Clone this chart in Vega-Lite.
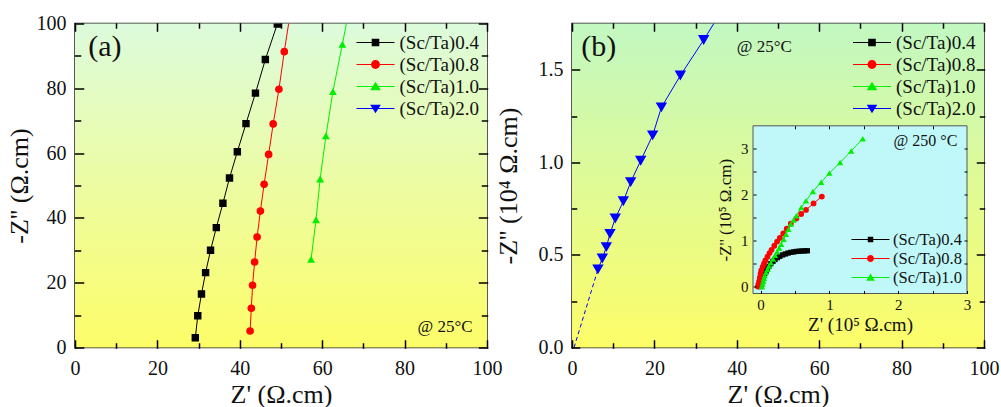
{
  "$schema": "https://vega.github.io/schema/vega-lite/v6.json",
  "autosize": {"type": "pad"},
  "padding": {"left": 5, "top": 12.5, "right": 3, "bottom": 0},
  "background": "white",
  "spacing": 85,
  "bounds": "flush",
  "datasets": {
    "a": [
      {"s": "(Sc/Ta)0.4", "x": 29.2, "y": 3.0}, {"s": "(Sc/Ta)0.4", "x": 29.8, "y": 9.8}, {"s": "(Sc/Ta)0.4", "x": 30.7, "y": 16.5},
      {"s": "(Sc/Ta)0.4", "x": 31.7, "y": 23.1}, {"s": "(Sc/Ta)0.4", "x": 32.9, "y": 30.0}, {"s": "(Sc/Ta)0.4", "x": 34.3, "y": 37.0},
      {"s": "(Sc/Ta)0.4", "x": 35.9, "y": 44.5}, {"s": "(Sc/Ta)0.4", "x": 37.5, "y": 52.3}, {"s": "(Sc/Ta)0.4", "x": 39.4, "y": 60.4},
      {"s": "(Sc/Ta)0.4", "x": 41.5, "y": 69.1}, {"s": "(Sc/Ta)0.4", "x": 43.8, "y": 78.5}, {"s": "(Sc/Ta)0.4", "x": 46.2, "y": 88.9},
      {"s": "(Sc/Ta)0.4", "x": 49.1, "y": 99.8},
      {"s": "(Sc/Ta)0.8", "x": 42.5, "y": 5.1}, {"s": "(Sc/Ta)0.8", "x": 42.8, "y": 12.1}, {"s": "(Sc/Ta)0.8", "x": 43.1, "y": 19.2},
      {"s": "(Sc/Ta)0.8", "x": 43.6, "y": 26.4}, {"s": "(Sc/Ta)0.8", "x": 44.2, "y": 34.1}, {"s": "(Sc/Ta)0.8", "x": 45.0, "y": 42.1},
      {"s": "(Sc/Ta)0.8", "x": 45.9, "y": 50.4}, {"s": "(Sc/Ta)0.8", "x": 47.0, "y": 59.6}, {"s": "(Sc/Ta)0.8", "x": 48.1, "y": 69.0},
      {"s": "(Sc/Ta)0.8", "x": 49.5, "y": 79.7}, {"s": "(Sc/Ta)0.8", "x": 50.8, "y": 91.3}, {"s": "(Sc/Ta)0.8", "x": 52.4, "y": 104.5},
      {"s": "(Sc/Ta)1.0", "x": 57.3, "y": 27.2}, {"s": "(Sc/Ta)1.0", "x": 58.5, "y": 39.4}, {"s": "(Sc/Ta)1.0", "x": 59.5, "y": 52.0},
      {"s": "(Sc/Ta)1.0", "x": 60.9, "y": 65.3}, {"s": "(Sc/Ta)1.0", "x": 62.6, "y": 79.0}, {"s": "(Sc/Ta)1.0", "x": 64.9, "y": 93.6},
      {"s": "(Sc/Ta)1.0", "x": 66.4, "y": 103.5}
    ],
    "b": [
      {"s": "(Sc/Ta)2.0", "x": 6.3, "y": 0.422}, {"s": "(Sc/Ta)2.0", "x": 7.36, "y": 0.481}, {"s": "(Sc/Ta)2.0", "x": 8.33, "y": 0.542},
      {"s": "(Sc/Ta)2.0", "x": 9.22, "y": 0.614}, {"s": "(Sc/Ta)2.0", "x": 10.5, "y": 0.697}, {"s": "(Sc/Ta)2.0", "x": 12.46, "y": 0.79},
      {"s": "(Sc/Ta)2.0", "x": 14.24, "y": 0.893}, {"s": "(Sc/Ta)2.0", "x": 16.67, "y": 1.009}, {"s": "(Sc/Ta)2.0", "x": 19.58, "y": 1.146},
      {"s": "(Sc/Ta)2.0", "x": 21.7, "y": 1.297}, {"s": "(Sc/Ta)2.0", "x": 26.3, "y": 1.469}, {"s": "(Sc/Ta)2.0", "x": 31.96, "y": 1.661},
      {"s": "(Sc/Ta)2.0", "x": 37.5, "y": 1.86}
    ],
    "bdash": [
      {"x": 0.5, "y": 0.0}, {"x": 6.3, "y": 0.422}
    ],
    "inset": [
      {"s": "(Sc/Ta)0.4", "x": 0.0, "y": 0.0}, {"s": "(Sc/Ta)0.4", "x": 0.01, "y": 0.06}, {"s": "(Sc/Ta)0.4", "x": 0.02, "y": 0.12},
      {"s": "(Sc/Ta)0.4", "x": 0.03, "y": 0.18}, {"s": "(Sc/Ta)0.4", "x": 0.045, "y": 0.24}, {"s": "(Sc/Ta)0.4", "x": 0.06, "y": 0.29},
      {"s": "(Sc/Ta)0.4", "x": 0.08, "y": 0.34}, {"s": "(Sc/Ta)0.4", "x": 0.1, "y": 0.39}, {"s": "(Sc/Ta)0.4", "x": 0.12, "y": 0.44},
      {"s": "(Sc/Ta)0.4", "x": 0.15, "y": 0.5}, {"s": "(Sc/Ta)0.4", "x": 0.18, "y": 0.55}, {"s": "(Sc/Ta)0.4", "x": 0.21, "y": 0.59},
      {"s": "(Sc/Ta)0.4", "x": 0.245, "y": 0.63}, {"s": "(Sc/Ta)0.4", "x": 0.28, "y": 0.66}, {"s": "(Sc/Ta)0.4", "x": 0.32, "y": 0.69},
      {"s": "(Sc/Ta)0.4", "x": 0.36, "y": 0.71}, {"s": "(Sc/Ta)0.4", "x": 0.4, "y": 0.73}, {"s": "(Sc/Ta)0.4", "x": 0.44, "y": 0.745},
      {"s": "(Sc/Ta)0.4", "x": 0.48, "y": 0.755}, {"s": "(Sc/Ta)0.4", "x": 0.52, "y": 0.765}, {"s": "(Sc/Ta)0.4", "x": 0.56, "y": 0.77},
      {"s": "(Sc/Ta)0.4", "x": 0.6, "y": 0.775}, {"s": "(Sc/Ta)0.4", "x": 0.64, "y": 0.778}, {"s": "(Sc/Ta)0.4", "x": 0.68, "y": 0.78},
      {"s": "(Sc/Ta)0.8", "x": -0.04, "y": 0.0}, {"s": "(Sc/Ta)0.8", "x": -0.03, "y": 0.06}, {"s": "(Sc/Ta)0.8", "x": -0.02, "y": 0.12},
      {"s": "(Sc/Ta)0.8", "x": -0.01, "y": 0.2}, {"s": "(Sc/Ta)0.8", "x": 0.0, "y": 0.28}, {"s": "(Sc/Ta)0.8", "x": 0.01, "y": 0.35},
      {"s": "(Sc/Ta)0.8", "x": 0.03, "y": 0.43}, {"s": "(Sc/Ta)0.8", "x": 0.05, "y": 0.5}, {"s": "(Sc/Ta)0.8", "x": 0.07, "y": 0.57},
      {"s": "(Sc/Ta)0.8", "x": 0.1, "y": 0.65}, {"s": "(Sc/Ta)0.8", "x": 0.13, "y": 0.73}, {"s": "(Sc/Ta)0.8", "x": 0.16, "y": 0.8},
      {"s": "(Sc/Ta)0.8", "x": 0.2, "y": 0.89}, {"s": "(Sc/Ta)0.8", "x": 0.24, "y": 0.98}, {"s": "(Sc/Ta)0.8", "x": 0.28, "y": 1.06},
      {"s": "(Sc/Ta)0.8", "x": 0.33, "y": 1.16}, {"s": "(Sc/Ta)0.8", "x": 0.38, "y": 1.26}, {"s": "(Sc/Ta)0.8", "x": 0.44, "y": 1.37},
      {"s": "(Sc/Ta)0.8", "x": 0.52, "y": 1.48}, {"s": "(Sc/Ta)0.8", "x": 0.59, "y": 1.58}, {"s": "(Sc/Ta)0.8", "x": 0.66, "y": 1.67},
      {"s": "(Sc/Ta)0.8", "x": 0.77, "y": 1.81}, {"s": "(Sc/Ta)0.8", "x": 0.89, "y": 1.96},
      {"s": "(Sc/Ta)1.0", "x": 0.02, "y": 0.0}, {"s": "(Sc/Ta)1.0", "x": 0.03, "y": 0.06}, {"s": "(Sc/Ta)1.0", "x": 0.04, "y": 0.12},
      {"s": "(Sc/Ta)1.0", "x": 0.05, "y": 0.18}, {"s": "(Sc/Ta)1.0", "x": 0.06, "y": 0.24}, {"s": "(Sc/Ta)1.0", "x": 0.08, "y": 0.31},
      {"s": "(Sc/Ta)1.0", "x": 0.1, "y": 0.38}, {"s": "(Sc/Ta)1.0", "x": 0.12, "y": 0.45}, {"s": "(Sc/Ta)1.0", "x": 0.15, "y": 0.52},
      {"s": "(Sc/Ta)1.0", "x": 0.18, "y": 0.6}, {"s": "(Sc/Ta)1.0", "x": 0.21, "y": 0.68}, {"s": "(Sc/Ta)1.0", "x": 0.24, "y": 0.76},
      {"s": "(Sc/Ta)1.0", "x": 0.27, "y": 0.84}, {"s": "(Sc/Ta)1.0", "x": 0.3, "y": 0.92}, {"s": "(Sc/Ta)1.0", "x": 0.335, "y": 1.03},
      {"s": "(Sc/Ta)1.0", "x": 0.37, "y": 1.14}, {"s": "(Sc/Ta)1.0", "x": 0.405, "y": 1.25}, {"s": "(Sc/Ta)1.0", "x": 0.44, "y": 1.36},
      {"s": "(Sc/Ta)1.0", "x": 0.48, "y": 1.45}, {"s": "(Sc/Ta)1.0", "x": 0.52, "y": 1.54}, {"s": "(Sc/Ta)1.0", "x": 0.59, "y": 1.72},
      {"s": "(Sc/Ta)1.0", "x": 0.66, "y": 1.87}, {"s": "(Sc/Ta)1.0", "x": 0.76, "y": 2.07}, {"s": "(Sc/Ta)1.0", "x": 0.88, "y": 2.27},
      {"s": "(Sc/Ta)1.0", "x": 1.0, "y": 2.47}, {"s": "(Sc/Ta)1.0", "x": 1.156, "y": 2.7}, {"s": "(Sc/Ta)1.0", "x": 1.316, "y": 2.95},
      {"s": "(Sc/Ta)1.0", "x": 1.485, "y": 3.22}
    ]
  },
  "hconcat": [
    {
      "width": 412,
      "height": 324,
      "view": {"stroke": "#222222", "strokeWidth": 1.5},
      "data": {"name": "a"},
      "layer": [
        {
          "data": {"values": [{"t": "bg"}]},
          "mark": {"type": "rect", "fill": {"gradient": "linear", "x1": 0, "y1": 0, "x2": 0, "y2": 1, "stops": [{"offset": 0, "color": "#dcfbdc"}, {"offset": 1, "color": "#fdfd68"}]}},
          "encoding": {
            "x": {"datum": 0, "type": "quantitative", "scale": {"domain": [0, 100], "nice": false, "zero": false}, "axis": null},
            "x2": {"datum": 100},
            "y": {"datum": 0, "type": "quantitative", "scale": {"domain": [0, 100], "nice": false, "zero": false}, "axis": null},
            "y2": {"datum": 100}
          }
        },
        {
          "mark": {"type": "line", "clip": true, "strokeWidth": 1},
          "encoding": {
            "x": {"field": "x", "type": "quantitative", "scale": {"domain": [0, 100], "nice": false, "zero": false},
                  "axis": {"orient": "bottom", "offset": -7, "values": [0, 20, 40, 60, 80, 100], "tickSize": 7, "tickCap": "square", "labelPadding": 11, "title": "Z' (Ω.cm)", "titlePadding": 3, "zindex": 1}},
            "y": {"field": "y", "type": "quantitative", "scale": {"domain": [0, 100], "nice": false, "zero": false},
                  "axis": {"orient": "left", "offset": -8, "values": [0, 20, 40, 60, 80, 100], "tickSize": 8, "tickCap": "square", "labelPadding": 9, "title": "-Z'' (Ω.cm)", "titlePadding": 4, "zindex": 1}},
            "color": {"field": "s", "type": "nominal", "legend": null,
                      "scale": {"domain": ["(Sc/Ta)0.4", "(Sc/Ta)0.8", "(Sc/Ta)1.0", "(Sc/Ta)2.0"], "range": ["#000000", "#ff0000", "#00ee00", "#0000ff"]}}
          }
        },
        {
          "mark": {"type": "point", "filled": true, "clip": true, "opacity": 1},
          "encoding": {
            "x": {"field": "x", "type": "quantitative", "scale": {"domain": [0, 100], "nice": false, "zero": false},
                  "axis": {"orient": "top", "offset": -7, "values": [0, 20, 40, 60, 80, 100], "tickSize": 7, "tickCap": "square", "labels": false, "title": null, "zindex": 1}},
            "y": {"field": "y", "type": "quantitative", "scale": {"domain": [0, 100], "nice": false, "zero": false},
                  "axis": {"orient": "right", "offset": -8, "values": [0, 20, 40, 60, 80, 100], "tickSize": 8, "tickCap": "square", "labels": false, "title": null, "zindex": 1}},
            "color": {"field": "s", "type": "nominal", "legend": null,
                      "scale": {"domain": ["(Sc/Ta)0.4", "(Sc/Ta)0.8", "(Sc/Ta)1.0", "(Sc/Ta)2.0"], "range": ["#000000", "#ff0000", "#00ee00", "#0000ff"]}},
            "shape": {"field": "s", "type": "nominal", "legend": null,
                      "scale": {"domain": ["(Sc/Ta)0.4", "(Sc/Ta)0.8", "(Sc/Ta)1.0", "(Sc/Ta)2.0"], "range": ["square", "circle", "triangle-up", "triangle-down"]}},
            "size": {"field": "s", "type": "ordinal", "legend": null,
                     "scale": {"domain": ["(Sc/Ta)0.4", "(Sc/Ta)0.8", "(Sc/Ta)1.0", "(Sc/Ta)2.0"], "range": [55, 65, 90, 130]}}
          }
        },
        {
          "mark": {"type": "point", "filled": true, "opacity": 0, "size": 361, "clip": true},
          "encoding": {
            "x": {"field": "x", "type": "quantitative", "scale": {"domain": [0, 100], "nice": false, "zero": false}, "axis": null},
            "y": {"field": "y", "type": "quantitative", "scale": {"domain": [0, 100], "nice": false, "zero": false}, "axis": null},
            "color": {"field": "s", "type": "nominal",
                      "scale": {"domain": ["(Sc/Ta)0.4", "(Sc/Ta)0.8", "(Sc/Ta)1.0", "(Sc/Ta)2.0"], "range": ["#000000", "#ff0000", "#00ee00", "#0000ff"]},
                      "legend": {"orient": "none", "legendX": 291, "legendY": 9.5, "title": null, "symbolSize": 361, "symbolOpacity": 1, "symbolStrokeWidth": 0, "labelOffset": 14.5, "rowPadding": 2, "padding": 0, "labelFontSize": 19}},
            "shape": {"field": "s", "type": "nominal",
                      "scale": {"domain": ["(Sc/Ta)0.4", "(Sc/Ta)0.8", "(Sc/Ta)1.0", "(Sc/Ta)2.0"],
                                "range": ["M-2,-0.06H2V0.06H-2ZM-0.4,-0.4H0.4V0.4H-0.4Z", "M-2,-0.06H2V0.06H-2ZM-0.47,0A0.47,0.47,0,1,1,0.47,0A0.47,0.47,0,1,1,-0.47,0Z", "M-2,-0.06H2V0.06H-2ZM0,-0.5L0.56,0.39H-0.56Z", "M-2,-0.06H2V0.06H-2ZM0,0.5L-0.56,-0.39H0.56Z"]},
                      "legend": {"orient": "none", "legendX": 291, "legendY": 9.5, "title": null, "symbolSize": 361, "symbolOpacity": 1, "symbolStrokeWidth": 0, "labelOffset": 14.5, "rowPadding": 2, "padding": 0, "labelFontSize": 19}}
          }
        },
        {
          "data": {"values": [{"t": "(a)"}]},
          "mark": {"type": "text", "align": "left", "baseline": "middle", "fontSize": 30},
          "encoding": {
            "x": {"datum": 3.2, "type": "quantitative", "scale": {"domain": [0, 100], "nice": false, "zero": false},
                  "axis": {"orient": "bottom", "offset": -4, "values": [10, 30, 50, 70, 90], "tickSize": 4, "tickCap": "square", "labels": false, "title": null, "zindex": 1}},
            "y": {"datum": 92.6, "type": "quantitative", "scale": {"domain": [0, 100], "nice": false, "zero": false},
                  "axis": {"orient": "left", "offset": -5, "values": [10, 30, 50, 70, 90], "tickSize": 5, "tickCap": "square", "labels": false, "title": null, "zindex": 1}},
            "text": {"field": "t"}
          }
        },
        {
          "data": {"values": [{"t": "@ 25°C"}]},
          "mark": {"type": "text", "align": "right", "baseline": "middle", "fontSize": 17},
          "encoding": {
            "x": {"datum": 96.5, "type": "quantitative", "scale": {"domain": [0, 100], "nice": false, "zero": false},
                  "axis": {"orient": "top", "offset": -4, "values": [10, 30, 50, 70, 90], "tickSize": 4, "tickCap": "square", "labels": false, "title": null, "zindex": 1}},
            "y": {"datum": 6.2, "type": "quantitative", "scale": {"domain": [0, 100], "nice": false, "zero": false},
                  "axis": {"orient": "right", "offset": -5, "values": [10, 30, 50, 70, 90], "tickSize": 5, "tickCap": "square", "labels": false, "title": null, "zindex": 1}},
            "text": {"field": "t"}
          }
        }
      ],
      "resolve": {
        "scale": {"color": "independent", "shape": "independent", "size": "independent"},
        "axis": {"x": "independent", "y": "independent"},
        "legend": {"color": "independent", "shape": "independent", "size": "independent"}
      }
    },
    {
      "width": 412,
      "height": 324,
      "view": {"stroke": "#222222", "strokeWidth": 1.5},
      "layer": [
        {
          "layer": [
            {
              "data": {"values": [{"t": "bg"}]},
              "mark": {"type": "rect", "fill": {"gradient": "linear", "x1": 0, "y1": 0, "x2": 0, "y2": 1, "stops": [{"offset": 0, "color": "#c2f8c2"}, {"offset": 1, "color": "#fdfd68"}]}},
              "encoding": {
                "x": {"datum": 0, "type": "quantitative", "scale": {"domain": [0, 100], "nice": false, "zero": false}, "axis": null},
                "x2": {"datum": 100},
                "y": {"datum": 0, "type": "quantitative", "scale": {"domain": [0, 1.75], "nice": false, "zero": false}, "axis": null},
                "y2": {"datum": 1.75}
              }
            },
            {
              "data": {"name": "bdash"},
              "mark": {"type": "line", "clip": true, "strokeWidth": 1, "strokeDash": [4, 3], "color": "#0000ff"},
              "encoding": {
                "x": {"field": "x", "type": "quantitative", "scale": {"domain": [0, 100], "nice": false, "zero": false},
                      "axis": {"orient": "bottom", "offset": -7, "values": [0, 20, 40, 60, 80, 100], "tickSize": 7, "tickCap": "square", "labelPadding": 11, "title": "Z' (Ω.cm)", "titlePadding": 3, "zindex": 1}},
                "y": {"field": "y", "type": "quantitative", "scale": {"domain": [0, 1.75], "nice": false, "zero": false},
                      "axis": {"orient": "left", "offset": -7, "values": [0, 0.5, 1, 1.5], "format": ".1f", "tickSize": 7, "tickCap": "square", "labelPadding": 9, "title": "-Z'' (10⁴ Ω.cm)", "titlePadding": 17, "zindex": 1}}
              }
            },
            {
              "data": {"name": "b"},
              "mark": {"type": "line", "clip": true, "strokeWidth": 1, "color": "#0000ff"},
              "encoding": {
                "x": {"field": "x", "type": "quantitative", "scale": {"domain": [0, 100], "nice": false, "zero": false},
                      "axis": {"orient": "top", "offset": -7, "values": [0, 20, 40, 60, 80, 100], "tickSize": 7, "tickCap": "square", "labels": false, "title": null, "zindex": 1}},
                "y": {"field": "y", "type": "quantitative", "scale": {"domain": [0, 1.75], "nice": false, "zero": false},
                      "axis": {"orient": "right", "offset": -7, "values": [0, 0.5, 1, 1.5], "tickSize": 7, "tickCap": "square", "labels": false, "title": null, "zindex": 1}}
              }
            },
            {
              "data": {"name": "b"},
              "mark": {"type": "point", "filled": true, "clip": true, "opacity": 1, "shape": "triangle-down", "size": 130, "color": "#0000ff"},
              "encoding": {
                "x": {"field": "x", "type": "quantitative", "scale": {"domain": [0, 100], "nice": false, "zero": false},
                      "axis": {"orient": "bottom", "offset": -4, "values": [10, 30, 50, 70, 90], "tickSize": 4, "tickCap": "square", "labels": false, "title": null, "zindex": 1}},
                "y": {"field": "y", "type": "quantitative", "scale": {"domain": [0, 1.75], "nice": false, "zero": false},
                      "axis": {"orient": "left", "offset": -4, "values": [0.25, 0.75, 1.25], "tickSize": 4, "tickCap": "square", "labels": false, "title": null, "zindex": 1}}
              }
            },
            {
              "data": {"name": "b"},
              "mark": {"type": "point", "filled": true, "opacity": 0, "size": 361, "clip": true},
              "encoding": {
                "x": {"field": "x", "type": "quantitative", "scale": {"domain": [0, 100], "nice": false, "zero": false}, "axis": null},
                "y": {"field": "y", "type": "quantitative", "scale": {"domain": [0, 1.75], "nice": false, "zero": false}, "axis": null},
                "color": {"field": "s", "type": "nominal",
                          "scale": {"domain": ["(Sc/Ta)0.4", "(Sc/Ta)0.8", "(Sc/Ta)1.0", "(Sc/Ta)2.0"], "range": ["#000000", "#ff0000", "#00ee00", "#0000ff"]},
                          "legend": {"orient": "none", "legendX": 290.5, "legendY": 9.5, "title": null, "symbolSize": 361, "symbolOpacity": 1, "symbolStrokeWidth": 0, "labelOffset": 14.5, "rowPadding": 2, "padding": 0, "labelFontSize": 19}},
                "shape": {"field": "s", "type": "nominal",
                          "scale": {"domain": ["(Sc/Ta)0.4", "(Sc/Ta)0.8", "(Sc/Ta)1.0", "(Sc/Ta)2.0"],
                                    "range": ["M-2,-0.06H2V0.06H-2ZM-0.4,-0.4H0.4V0.4H-0.4Z", "M-2,-0.06H2V0.06H-2ZM-0.47,0A0.47,0.47,0,1,1,0.47,0A0.47,0.47,0,1,1,-0.47,0Z", "M-2,-0.06H2V0.06H-2ZM0,-0.5L0.56,0.39H-0.56Z", "M-2,-0.06H2V0.06H-2ZM0,0.5L-0.56,-0.39H0.56Z"]},
                          "legend": {"orient": "none", "legendX": 290.5, "legendY": 9.5, "title": null, "symbolSize": 361, "symbolOpacity": 1, "symbolStrokeWidth": 0, "labelOffset": 14.5, "rowPadding": 2, "padding": 0, "labelFontSize": 19}}
              }
            },
            {
              "data": {"values": [{"t": "(b)"}]},
              "mark": {"type": "text", "align": "left", "baseline": "middle", "fontSize": 30},
              "encoding": {
                "x": {"datum": 2.26, "type": "quantitative", "scale": {"domain": [0, 100], "nice": false, "zero": false},
                      "axis": {"orient": "top", "offset": -4, "values": [10, 30, 50, 70, 90], "tickSize": 4, "tickCap": "square", "labels": false, "title": null, "zindex": 1}},
                "y": {"datum": 1.625, "type": "quantitative", "scale": {"domain": [0, 1.75], "nice": false, "zero": false},
                      "axis": {"orient": "right", "offset": -4, "values": [0.25, 0.75, 1.25], "tickSize": 4, "tickCap": "square", "labels": false, "title": null, "zindex": 1}},
                "text": {"field": "t"}
              }
            },
            {
              "data": {"values": [{"t": "@ 25°C"}]},
              "mark": {"type": "text", "align": "left", "baseline": "middle", "fontSize": 17},
              "encoding": {
                "x": {"datum": 40, "type": "quantitative", "scale": {"domain": [0, 100], "nice": false, "zero": false}, "axis": null},
                "y": {"datum": 1.625, "type": "quantitative", "scale": {"domain": [0, 1.75], "nice": false, "zero": false}, "axis": null},
                "text": {"field": "t"}
              }
            }
          ],
          "resolve": {"axis": {"x": "independent", "y": "independent"}}
        },
        {
          "layer": [
            {
              "data": {"values": [{"t": "inset"}]},
              "mark": {"type": "rect", "fill": "#c0f8fa", "stroke": "#555555", "strokeWidth": 1},
              "encoding": {
                "x": {"datum": -0.11, "type": "quantitative", "scale": {"domain": [-0.11, 3], "range": [181, 395], "nice": false, "zero": false},
                      "axis": {"orient": "bottom", "offset": -57, "values": [0, 0.5, 1, 1.5, 2, 2.5, 3], "labelExpr": "datum.value % 1 === 0 ? format(datum.value, 'd') : ''", "tickSize": 3, "tickWidth": 1, "labelPadding": 4, "labelFontSize": 15, "title": "Z' (10⁵ Ω.cm)", "titleFontSize": 19, "titlePadding": 3, "zindex": 2}},
                "x2": {"datum": 3},
                "y": {"datum": -0.15, "type": "quantitative", "scale": {"domain": [-0.15, 3.5], "range": [270, 102.3], "nice": false, "zero": false},
                      "axis": {"orient": "left", "offset": -184, "values": [0, 0.5, 1, 1.5, 2, 2.5, 3], "labelExpr": "datum.value % 1 === 0 ? format(datum.value, 'd') : ''", "tickSize": 3, "tickWidth": 1, "labelPadding": 5, "labelFontSize": 15, "title": "-Z'' (10⁵ Ω.cm)", "titleFontSize": 17, "titlePadding": 6, "zindex": 2}},
                "y2": {"datum": 3.5}
              }
            },
            {
              "data": {"name": "inset"},
              "mark": {"type": "line", "strokeWidth": 1},
              "encoding": {
                "x": {"field": "x", "type": "quantitative", "scale": {"domain": [-0.11, 3], "range": [181, 395], "nice": false, "zero": false},
                      "axis": {"orient": "top", "offset": -105.3, "values": [0.5, 1, 1.5, 2, 2.5], "tickSize": 3, "tickWidth": 1, "labels": false, "title": null, "zindex": 2}},
                "y": {"field": "y", "type": "quantitative", "scale": {"domain": [-0.15, 3.5], "range": [270, 102.3], "nice": false, "zero": false},
                      "axis": {"orient": "right", "offset": -20, "values": [0.5, 1, 1.5, 2, 2.5, 3], "tickSize": 3, "tickWidth": 1, "labels": false, "title": null, "zindex": 2}},
                "color": {"field": "s", "type": "nominal", "legend": null,
                          "scale": {"domain": ["(Sc/Ta)0.4", "(Sc/Ta)0.8", "(Sc/Ta)1.0"], "range": ["#000000", "#ff0000", "#00ee00"]}}
              }
            },
            {
              "data": {"name": "inset"},
              "mark": {"type": "point", "filled": true, "opacity": 1},
              "encoding": {
                "x": {"field": "x", "type": "quantitative", "scale": {"domain": [-0.11, 3], "range": [181, 395], "nice": false, "zero": false}, "axis": null},
                "y": {"field": "y", "type": "quantitative", "scale": {"domain": [-0.15, 3.5], "range": [270, 102.3], "nice": false, "zero": false}, "axis": null},
                "color": {"field": "s", "type": "nominal", "legend": null,
                          "scale": {"domain": ["(Sc/Ta)0.4", "(Sc/Ta)0.8", "(Sc/Ta)1.0"], "range": ["#000000", "#ff0000", "#00ee00"]}},
                "shape": {"field": "s", "type": "nominal", "legend": null,
                          "scale": {"domain": ["(Sc/Ta)0.4", "(Sc/Ta)0.8", "(Sc/Ta)1.0"], "range": ["square", "circle", "triangle-up"]}},
                "size": {"field": "s", "type": "ordinal", "legend": null,
                         "scale": {"domain": ["(Sc/Ta)0.4", "(Sc/Ta)0.8", "(Sc/Ta)1.0"], "range": [28, 40, 60]}}
              }
            },
            {
              "data": {"name": "inset"},
              "mark": {"type": "point", "filled": true, "opacity": 0, "size": 361, "clip": true},
              "encoding": {
                "x": {"field": "x", "type": "quantitative", "scale": {"domain": [-0.11, 3], "range": [181, 395], "nice": false, "zero": false}, "axis": null},
                "y": {"field": "y", "type": "quantitative", "scale": {"domain": [-0.15, 3.5], "range": [270, 102.3], "nice": false, "zero": false}, "axis": null},
                "color": {"field": "s", "type": "nominal",
                          "scale": {"domain": ["(Sc/Ta)0.4", "(Sc/Ta)0.8", "(Sc/Ta)1.0"], "range": ["#000000", "#ff0000", "#00ee00"]},
                          "legend": {"orient": "none", "legendX": 289, "legendY": 206.5, "title": null, "symbolSize": 361, "symbolOpacity": 1, "symbolStrokeWidth": 0, "labelOffset": 13, "rowPadding": 1, "padding": 0, "labelFontSize": 16.5}},
                "shape": {"field": "s", "type": "nominal",
                          "scale": {"domain": ["(Sc/Ta)0.4", "(Sc/Ta)0.8", "(Sc/Ta)1.0"],
                                    "range": ["M-2,-0.05H2V0.05H-2ZM-0.29,-0.29H0.29V0.29H-0.29Z", "M-2,-0.05H2V0.05H-2ZM-0.37,0A0.37,0.37,0,1,1,0.37,0A0.37,0.37,0,1,1,-0.37,0Z", "M-2,-0.05H2V0.05H-2ZM0,-0.42L0.45,0.33H-0.45Z"]},
                          "legend": {"orient": "none", "legendX": 289, "legendY": 206.5, "title": null, "symbolSize": 361, "symbolOpacity": 1, "symbolStrokeWidth": 0, "labelOffset": 13, "rowPadding": 1, "padding": 0, "labelFontSize": 16.5}}
              }
            },
            {
              "data": {"values": [{"t": "@ 250 °C"}]},
              "mark": {"type": "text", "align": "right", "baseline": "middle", "fontSize": 16},
              "encoding": {
                "x": {"datum": 2.86, "type": "quantitative", "scale": {"domain": [-0.11, 3], "range": [181, 395], "nice": false, "zero": false}, "axis": null},
                "y": {"datum": 3.18, "type": "quantitative", "scale": {"domain": [-0.15, 3.5], "range": [270, 102.3], "nice": false, "zero": false}, "axis": null},
                "text": {"field": "t"}
              }
            }
          ],
          "resolve": {
            "scale": {"color": "independent", "shape": "independent", "size": "independent"},
            "axis": {"x": "independent", "y": "independent"},
            "legend": {"color": "independent", "shape": "independent", "size": "independent"}
          }
        }
      ],
      "resolve": {
        "scale": {"x": "independent", "y": "independent", "color": "independent", "shape": "independent", "size": "independent"},
        "axis": {"x": "independent", "y": "independent"},
        "legend": {"color": "independent", "shape": "independent", "size": "independent"}
      }
    }
  ],
  "resolve": {
    "scale": {"color": "independent", "shape": "independent", "size": "independent"},
    "legend": {"color": "independent", "shape": "independent", "size": "independent"}
  },
  "config": {
    "font": "Liberation Serif",
    "axis": {"labelFont": "Liberation Serif", "titleFont": "Liberation Serif", "labelColor": "#111111", "titleColor": "#111111", "tickColor": "#000000", "tickWidth": 1.5, "ticks": true, "tickOpacity": 1,
             "domain": false, "grid": false, "labelFontSize": 20, "titleFontSize": 26, "titleFontWeight": "normal", "labelFlush": false, "labelOverlap": false},
    "legend": {"labelFont": "Liberation Serif", "labelColor": "#111111"},
    "text": {"font": "Liberation Serif", "color": "#111111"}
  }
}
